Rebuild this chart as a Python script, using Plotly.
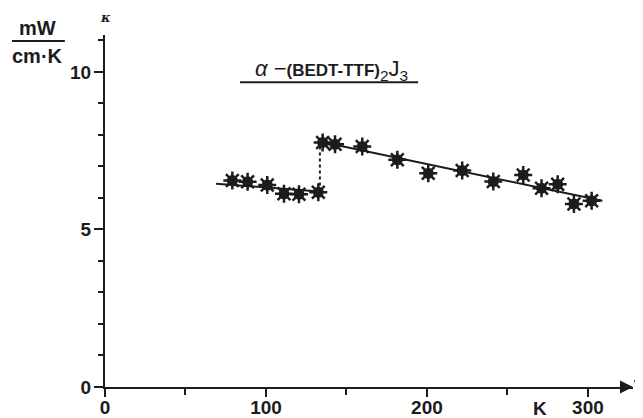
import plotly.graph_objects as go

# Data
T = [79.1, 88.6, 100.8, 111.2, 120.5, 132.5, 135.2, 142.9, 159.8, 181.6,
     200.8, 221.9, 241.2, 259.8, 271.2, 281.2, 291.3, 302.3]
kappa = [6.55, 6.51, 6.41, 6.13, 6.12, 6.18, 7.76, 7.70, 7.63, 7.21,
         6.78, 6.87, 6.52, 6.73, 6.31, 6.43, 5.81, 5.91]

fit_left_T = [69, 133.5]
fit_left_k = [6.45, 6.2]
fit_right_T = [134, 309]
fit_right_k = [7.78, 5.91]
jump_T = [133.5, 133.5]
jump_k = [6.2, 7.78]

x_ticks = [0, 100, 200, 300]
y_ticks = [0, 5, 10]

X_MAX = 328
Y_MAX = 11.17
INK = "#1c1c1c"
FONT = "Liberation Sans"

fig = go.Figure()
fig.add_trace(go.Scatter(x=fit_left_T, y=fit_left_k, mode="lines",
                         line=dict(color=INK, width=2), hoverinfo="skip"))
fig.add_trace(go.Scatter(x=fit_right_T, y=fit_right_k, mode="lines",
                         line=dict(color=INK, width=2), hoverinfo="skip"))
fig.add_trace(go.Scatter(x=jump_T, y=jump_k, mode="lines",
                         line=dict(color=INK, width=2, dash="dot"), hoverinfo="skip"))
fig.add_trace(go.Scatter(x=T, y=kappa, mode="markers",
                         marker=dict(symbol="circle", size=11, color=INK,
                                     line=dict(width=0))))
fig.add_trace(go.Scatter(x=T, y=kappa, mode="markers",
                         marker=dict(symbol="asterisk-open", size=15, color=INK,
                                     line=dict(color=INK, width=2.5))))

# The page adds an 8px body margin, so the figure is 8px smaller than the window
fig.update_layout(
    template="none",
    width=635, height=410,
    margin=dict(l=97, r=10, t=27, b=31, autoexpand=False),
    paper_bgcolor="white", plot_bgcolor="white",
    showlegend=False,
    font=dict(family=FONT, color=INK, size=18),
    xaxis=dict(range=[0, X_MAX], showgrid=False, zeroline=False,
               showline=True, linecolor=INK, linewidth=2,
               tickvals=x_ticks, ticks="outside", ticklen=8, tickwidth=2,
               tickcolor=INK, ticklabelstandoff=-6,
               tickfont=dict(size=19, family=FONT, weight="bold"),
               minor=dict(dtick=50, tick0=0, ticks="outside", ticklen=6,
                          tickwidth=2, tickcolor=INK, showgrid=False)),
    yaxis=dict(range=[0, Y_MAX], showgrid=False, zeroline=False,
               showline=True, linecolor=INK, linewidth=2,
               tickvals=y_ticks, ticks="outside", ticklen=9, tickwidth=2,
               tickcolor=INK, ticklabelstandoff=-1,
               tickfont=dict(size=19, family=FONT, weight="bold"),
               minor=dict(dtick=1, tick0=0, ticks="outside", ticklen=5,
                          tickwidth=1.5, tickcolor=INK, showgrid=False)),
)

# Axis arrows
fig.add_annotation(x=X_MAX, y=0, xref="x", yref="y", ax=-14, ay=0,
                   showarrow=True, arrowhead=2, arrowsize=1.3, arrowwidth=2,
                   arrowcolor=INK, text="")
fig.add_annotation(x=0, y=Y_MAX + 0.05, xref="x", yref="y", ax=0, ay=14,
                   showarrow=True, arrowhead=2, arrowsize=1.3, arrowwidth=2,
                   arrowcolor=INK, text="")

# Axis symbols
fig.add_annotation(x=1.0, y=0, xref="paper", yref="y", xanchor="left",
                   xshift=-1, text="T", showarrow=False,
                   font=dict(size=20, family=FONT, color=INK, weight="bold"))
fig.add_annotation(x=0, y=Y_MAX, xref="x", yref="y", yanchor="bottom",
                   yshift=8, text="<i>κ</i>", showarrow=False,
                   font=dict(size=13, family="DejaVu Serif", color=INK, weight="bold"))
fig.add_annotation(x=270, y=0, xref="x", yref="y", yanchor="top",
                   yshift=-9, text="K", showarrow=False,
                   font=dict(size=19, family=FONT, color=INK, weight="bold"))

# Unit fraction
fig.add_annotation(x=-0.127, y=0.984, xref="paper", yref="paper",
                   text="mW", showarrow=False, xanchor="center", yanchor="bottom",
                   font=dict(size=20, family=FONT, color=INK, weight="bold"))
fig.add_annotation(x=-0.127, y=0.978, xref="paper", yref="paper",
                   text="cm·K", showarrow=False, xanchor="center", yanchor="top",
                   font=dict(size=20, family=FONT, color=INK, weight="bold"))
fig.add_shape(type="line", xref="paper", yref="paper",
              x0=-0.176, x1=-0.076, y0=0.983, y1=0.983,
              line=dict(color=INK, width=2))

# Title with underline
fig.add_annotation(x=0.429, y=0.9, xref="paper", yref="paper",
                   text="<i>α</i> −<b><span style='font-size:17px'>(BEDT-TTF)</span></b><sub>2</sub>J<sub>3</sub>",
                   showarrow=False, xanchor="center", yanchor="middle",
                   font=dict(size=22, family=FONT, color=INK))
fig.add_shape(type="line", xref="paper", yref="paper",
              x0=0.2557, x1=0.593, y0=0.866, y1=0.866,
              line=dict(color=INK, width=2))

fig.write_html("out.html")
